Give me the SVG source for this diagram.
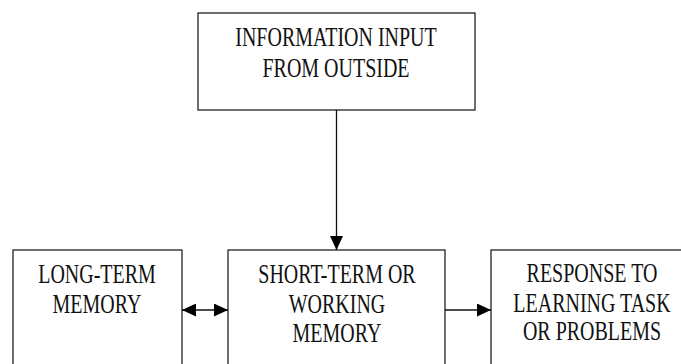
<svg xmlns="http://www.w3.org/2000/svg" width="681" height="364" viewBox="0 0 681 364">
<style>
  .box { fill: #ffffff; stroke: #222222; stroke-width: 1.3; }
  .lbl { font-family: "Liberation Serif", "Times New Roman", serif; font-size: 27px; fill: #111111; text-anchor: middle; }
  .conn { stroke: #111111; stroke-width: 1.3; fill: none; }
</style>
<defs>
  <marker id="ah" viewBox="0 0 14 13" refX="14" refY="6.5" markerWidth="14" markerHeight="13" markerUnits="userSpaceOnUse" orient="auto-start-reverse">
    <path d="M0,0 L14,6.5 L0,13 Z" fill="#000000"/>
  </marker>
</defs>
<rect width="681" height="364" fill="#ffffff"/>
<g id="node-input">
  <rect class="box" x="198" y="13" width="277" height="97"/>
  <text class="lbl" transform="translate(336,46) scale(0.74,1)">INFORMATION INPUT</text>
  <text class="lbl" transform="translate(336,77) scale(0.74,1)">FROM OUTSIDE</text>
</g>
<g id="node-longterm">
  <rect class="box" x="13" y="250" width="169" height="130"/>
  <text class="lbl" transform="translate(97,283) scale(0.74,1)">LONG-TERM</text>
  <text class="lbl" transform="translate(97,313) scale(0.74,1)">MEMORY</text>
</g>
<g id="node-shortterm">
  <rect class="box" x="228" y="250" width="217" height="130"/>
  <text class="lbl" transform="translate(337,283) scale(0.74,1)">SHORT-TERM OR</text>
  <text class="lbl" transform="translate(337,313) scale(0.74,1)">WORKING</text>
  <text class="lbl" transform="translate(337,342) scale(0.74,1)">MEMORY</text>
</g>
<g id="node-response">
  <rect class="box" x="491" y="250" width="202" height="130"/>
  <text class="lbl" transform="translate(592,282) scale(0.74,1)">RESPONSE TO</text>
  <text class="lbl" transform="translate(592,312) scale(0.74,1)">LEARNING TASK</text>
  <text class="lbl" transform="translate(592,340) scale(0.74,1)">OR PROBLEMS</text>
</g>
<g id="connectors">
  <line class="conn" x1="336.5" y1="110" x2="336.5" y2="250" marker-end="url(#ah)"/>
  <line class="conn" x1="182" y1="310" x2="228" y2="310" marker-start="url(#ah)" marker-end="url(#ah)"/>
  <line class="conn" x1="445" y1="310" x2="491" y2="310" marker-end="url(#ah)"/>
</g>
</svg>
